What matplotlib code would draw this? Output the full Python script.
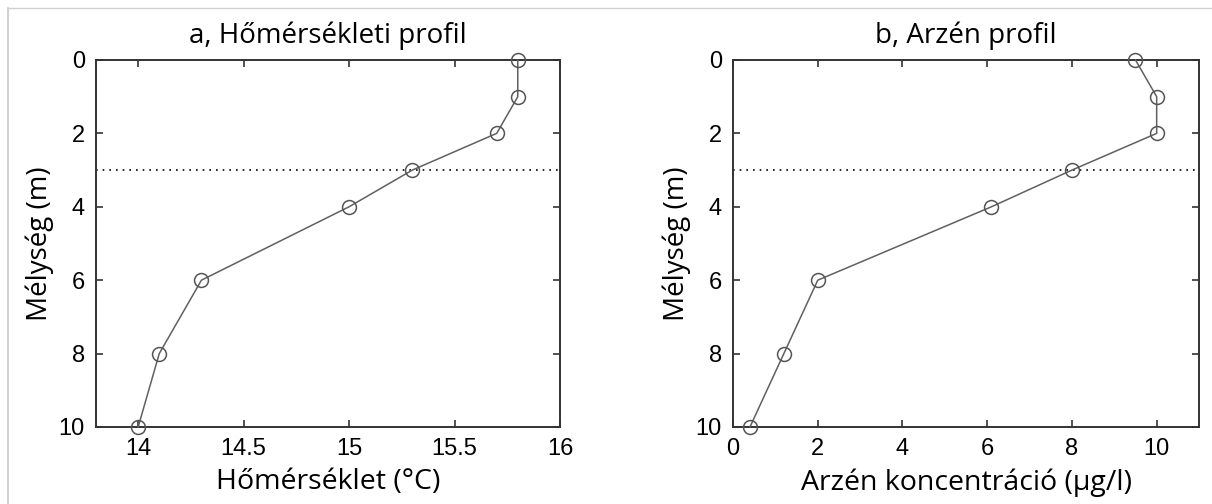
import numpy as np
import matplotlib.pyplot as plt
from matplotlib.lines import Line2D

# depth profiles
depth = [0, 1, 2, 3, 4, 6, 8, 10]
temp = [15.8, 15.8, 15.7, 15.3, 15.0, 14.3, 14.1, 14.0]
arsenic = [9.5, 10.0, 10.0, 8.0, 6.1, 2.0, 1.2, 0.4]
dotted_depth = 3

titles = ['a, Hőmérsékleti profil', 'b, Arzén profil']
xlabels = ['Hőmérséklet (°C)', 'Arzén koncentráció (µg/l)']
ylabel = 'Mélység (m)'

label_font = 'Open Sans'
tick_font = 'Liberation Sans'

fig = plt.figure(figsize=(12.12, 5.04), dpi=100)
ax1 = fig.add_axes([0.0792, 0.1528, 0.3828, 0.7282])
ax2 = fig.add_axes([0.6048, 0.1528, 0.3845, 0.7282])

# light frame as in the screenshot
fig.add_artist(Line2D([8/1212, 8/1212], [0, 1 - 8/504], color='#c8c8c8', lw=1.2, transform=fig.transFigure))
fig.add_artist(Line2D([8/1212, 1], [1 - 8/504, 1 - 8/504], color='#d0d0d0', lw=1.0, transform=fig.transFigure))

for ax, x, title, xl in [(ax1, temp, titles[0], xlabels[0]), (ax2, arsenic, titles[1], xlabels[1])]:
    ax.plot(x, depth, color='#606060', lw=1.1, marker='o', markersize=10,
            markerfacecolor='none', markeredgecolor='#555555', markeredgewidth=1.1,
            clip_on=False, zorder=3)
    ax.axhline(dotted_depth, color='black', lw=1.2, ls=(0, (1, 3)))
    ax.set_ylim(10, 0)
    ax.set_yticks([0, 2, 4, 6, 8, 10])
    ax.set_title(title, family=label_font, fontsize=20, pad=12)
    ax.set_xlabel(xl, family=label_font, fontsize=20.5, labelpad=6)
    ax.set_ylabel(ylabel, family=label_font, fontsize=20, labelpad=3)
    ax.tick_params(direction='in', length=5, width=1.2, color='#333333',
                   top=True, right=True, labelsize=17, pad=8)
    for s in ax.spines.values():
        s.set_color('#333333')
        s.set_linewidth(1.4)

ax1.set_xlim(13.8, 16)
ax1.set_xticks([14, 14.5, 15, 15.5, 16])
ax1.set_xticklabels(['14', '14.5', '15', '15.5', '16'])
ax2.set_xlim(0, 11)
ax2.set_xticks([0, 2, 4, 6, 8, 10])
for ax in (ax1, ax2):
    for lab in ax.get_xticklabels() + ax.get_yticklabels():
        lab.set_family(tick_font)

fig.savefig('out.png', dpi=100)
